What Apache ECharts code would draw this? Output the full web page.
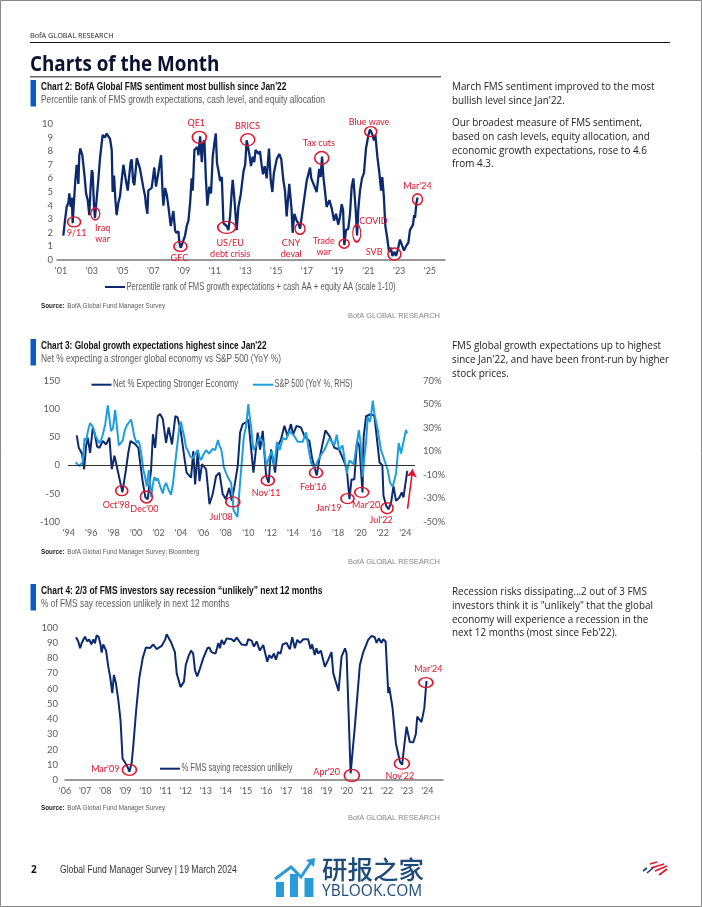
<!DOCTYPE html>
<html><head><meta charset="utf-8">
<style>html,body{margin:0;padding:0;background:#fff}#c{width:702px;height:907px}</style>
<script src="https://cdn.jsdelivr.net/npm/echarts@6/dist/echarts.min.js"></script>
</head><body><div id="c"></div>
<script>
// ---------- data ----------
const sentimentYearTicks=[2001,2003,2005,2007,2009,2011,2013,2015,2017,2019,2021,2023,2025];
const sentimentValues=[[2001.15,1.8],[2001.26,2.9],[2001.37,3.9],[2001.48,4.2],[2001.54,4.9],[2001.63,3.9],[2001.7,4.6],[2001.76,2.7],[2001.85,4.4],[2001.93,5.8],[2002.02,7],[2002.13,5.6],[2002.19,7.7],[2002.26,8.2],[2002.39,7.7],[2002.45,7.6],[2002.54,6.1],[2002.63,4.9],[2002.74,4.4],[2002.84,3.3],[2002.93,5.4],[2003,6.6],[2003.06,6.4],[2003.15,3.9],[2003.21,3.1],[2003.32,4.5],[2003.43,5.9],[2003.54,7.5],[2003.6,7.5],[2003.71,9.2],[2003.86,9],[2003.97,9.3],[2004.08,9.4],[2004.19,8.9],[2004.3,8.1],[2004.36,5],[2004.45,6.2],[2004.54,4.4],[2004.62,3.3],[2004.73,4.2],[2004.84,4.7],[2004.95,5.9],[2005.06,7],[2005.14,7.1],[2005.23,5.8],[2005.34,5.1],[2005.42,5],[2005.53,7.2],[2005.6,7.4],[2005.69,5.8],[2005.77,5.5],[2005.93,7.5],[2006.03,7.6],[2006.14,6.7],[2006.25,6.6],[2006.36,5.3],[2006.47,4.7],[2006.53,4],[2006.62,3.4],[2006.68,5.1],[2006.9,5.3],[2007.07,6.8],[2007.18,5.4],[2007.33,6.4],[2007.51,7.7],[2007.6,5.1],[2007.66,4],[2007.77,5.3],[2007.88,4.8],[2007.99,3.9],[2008.14,2.5],[2008.31,3.6],[2008.42,2.2],[2008.49,2],[2008.64,2.1],[2008.7,1.3],[2008.79,0.9],[2008.92,1.3],[2009.07,1.8],[2009.18,2.5],[2009.29,2.9],[2009.4,4.2],[2009.5,6],[2009.57,5.1],[2009.68,8.1],[2009.79,8],[2009.87,8.3],[2009.94,7.7],[2010.05,9.1],[2010.16,7.2],[2010.24,8.6],[2010.33,8.8],[2010.42,6.1],[2010.52,4],[2010.65,5.4],[2010.76,4.9],[2010.87,7.6],[2010.98,8.6],[2011.07,9.3],[2011.15,7.1],[2011.24,6.6],[2011.35,5.8],[2011.46,6.1],[2011.57,2.7],[2011.67,2.6],[2011.78,2.5],[2011.89,2.2],[2012,3.2],[2012.11,5.1],[2012.17,5.9],[2012.28,4.5],[2012.43,2.2],[2012.54,3.9],[2012.69,4.8],[2012.87,6.5],[2012.98,7],[2013.08,8.8],[2013.19,8.9],[2013.25,7.8],[2013.36,6.9],[2013.47,7.6],[2013.57,7.2],[2013.66,8.1],[2013.84,7.8],[2013.94,8],[2014.05,7],[2014.14,6.3],[2014.25,6.9],[2014.38,6],[2014.53,8.2],[2014.64,5.9],[2014.75,5],[2014.85,6.4],[2015.03,7.4],[2015.2,7.8],[2015.33,7.4],[2015.46,5.9],[2015.57,5.1],[2015.68,3.2],[2015.85,5.6],[2016,3.7],[2016.07,2],[2016.18,3.4],[2016.33,2.9],[2016.44,2.7],[2016.55,2.3],[2016.65,3.1],[2016.76,3.2],[2016.87,4.9],[2016.98,5.8],[2017.2,6.8],[2017.28,6],[2017.46,5.5],[2017.63,5],[2017.8,6.7],[2017.89,6.1],[2017.98,7.6],[2018.07,6.1],[2018.17,5.1],[2018.28,3.9],[2018.46,4.4],[2018.61,3.8],[2018.76,2.9],[2018.89,3.4],[2019.04,2.6],[2019.15,3.2],[2019.26,4.1],[2019.35,3.7],[2019.43,1.1],[2019.54,2.2],[2019.69,2.3],[2019.8,3.4],[2019.91,5.4],[2020.02,6],[2020.13,6.1],[2020.17,3.7],[2020.26,1.8],[2020.34,3.7],[2020.45,5.1],[2020.58,6],[2020.71,6.4],[2020.84,8.2],[2021,9.2],[2021.1,9.6],[2021.23,9.3],[2021.36,8.8],[2021.45,9.2],[2021.58,7.6],[2021.71,6.4],[2021.82,5.1],[2021.9,6.1],[2022,4.7],[2022.1,2.5],[2022.21,1.7],[2022.34,0.6],[2022.45,0.9],[2022.56,0.3],[2022.69,0.6],[2022.79,0.3],[2022.9,0.7],[2023.05,1.5],[2023.18,1.1],[2023.31,0.7],[2023.49,1.1],[2023.6,1.3],[2023.7,2.2],[2023.82,2.1],[2023.9,2.6],[2023.97,3.3],[2024.03,3.1],[2024.12,4.2],[2024.2,4.6]];
const growthYearTicks=[1994,1996,1998,2000,2002,2004,2006,2008,2010,2012,2014,2016,2018,2020,2022,2024];
const netStrongerValues=[[1994.71,53],[1994.89,31],[1995.04,30],[1995.19,20],[1995.37,-7],[1995.54,34],[1995.69,49],[1995.9,22],[1996.14,67],[1996.29,58],[1996.53,33],[1996.73,31],[1997.03,43],[1997.33,37],[1997.62,49],[1997.83,-7],[1998.07,17],[1998.37,-10],[1998.78,-48],[1999.1,-7],[1999.3,22],[1999.5,43],[1999.9,38],[2000.2,31],[2000.4,-1],[2000.6,-31],[2000.83,-57],[2001.04,-60],[2001.34,-7],[2001.5,55],[2001.7,31],[2001.93,87],[2002.14,91],[2002.38,82],[2002.67,40],[2002.9,67],[2003.2,37],[2003.5,87],[2003.7,85],[2004,58],[2004.3,14],[2004.5,-13],[2004.9,-22],[2005.1,25],[2005.26,-34],[2005.5,25],[2005.65,-28],[2005.88,2],[2006.24,-7],[2006.54,-69],[2006.83,-51],[2007.13,-19],[2007.43,-13],[2007.72,-51],[2008,-60],[2008.3,-40],[2008.53,-63],[2008.77,-37],[2009.06,-1],[2009.27,58],[2009.5,73],[2009.8,76],[2010,81],[2010.25,30],[2010.46,-13],[2010.84,58],[2011.05,28],[2011.29,61],[2011.59,-19],[2011.82,-31],[2012.03,28],[2012.39,-13],[2012.63,34],[2012.92,46],[2013.22,70],[2013.5,52],[2013.8,73],[2014,55],[2014.3,70],[2014.7,67],[2015,52],[2015.45,43],[2015.7,11],[2016.1,-18],[2016.34,11],[2016.87,62],[2017.23,52],[2017.68,31],[2018.1,28],[2018.57,5],[2018.78,-7],[2019.02,-60],[2019.2,-25],[2019.45,-25],[2019.7,43],[2019.9,34],[2020.18,-48],[2020.28,50],[2020.5,87],[2020.95,91],[2021.24,87],[2021.7,5],[2021.95,0],[2022.05,-54],[2022.3,-72],[2022.5,-78],[2022.73,-66],[2022.94,-37],[2023.17,-63],[2023.47,-57],[2023.68,-48],[2023.83,-57],[2024.17,-10]];
const sp500YoyValues=[[1994.6,0.5],[1994.75,-1],[1994.95,-2.6],[1995.1,-1],[1995.25,1],[1995.4,21],[1995.55,19],[1995.7,27],[1995.9,34],[1996.14,31],[1996.3,25],[1996.44,22],[1996.7,17],[1996.9,20],[1997.03,24],[1997.25,33],[1997.48,49],[1997.62,38],[1997.77,27],[1997.95,30],[1998.13,45],[1998.3,30],[1998.46,15],[1998.8,19],[1999,28],[1999.17,32],[1999.55,37],[1999.7,30],[1999.85,22],[2000.06,17],[2000.2,19],[2000.36,14],[2000.5,5],[2000.65,-6],[2000.8,-12],[2000.95,-20],[2001.13,-6],[2001.34,-29],[2001.5,-18],[2001.63,-12],[2001.8,-15],[2001.93,-13],[2002.15,-20],[2002.38,-26],[2002.52,-20],[2002.67,-17],[2002.9,-23],[2003.12,-27],[2003.28,-18],[2003.42,-6],[2003.58,8],[2003.72,19.5],[2003.85,30],[2004,35],[2004.15,28],[2004.3,22],[2004.45,13],[2004.6,11],[2004.8,6],[2005.05,4],[2005.3,8],[2005.5,11],[2005.65,5],[2005.8,2.5],[2006,7],[2006.24,11],[2006.5,8],[2006.83,12],[2007.05,11],[2007.3,19.5],[2007.45,14],[2007.58,12],[2007.7,5],[2007.8,-3],[2008,-8],[2008.17,-12],[2008.47,-17],[2008.6,-28],[2008.68,-40],[2008.85,-43],[2009.03,-46],[2009.2,-25],[2009.36,-6],[2009.5,10],[2009.6,22],[2009.8,31],[2009.92,42],[2010,50],[2010.12,40],[2010.25,31],[2010.38,18],[2010.46,11],[2010.7,15],[2011,22],[2011.3,18],[2011.45,10],[2011.6,-3],[2011.82,4],[2012.1,10],[2012.33,-3],[2012.55,18],[2012.8,11],[2013.07,21],[2013.37,20],[2013.67,27],[2014.1,23],[2014.4,18],[2014.85,18],[2015.15,26],[2015.39,11],[2015.6,0],[2015.9,-4.6],[2016.2,2],[2016.49,7],[2016.78,11],[2017.23,21],[2017.67,15],[2017.88,24],[2018.1,11],[2018.4,15],[2018.78,-9],[2019,2],[2019.15,2],[2019.4,-1],[2019.65,15],[2019.85,28],[2020,18],[2020.2,-12],[2020.35,5],[2020.5,18],[2020.65,39],[2020.85,35],[2021,45],[2021.1,53],[2021.24,42],[2021.54,28],[2021.83,11],[2022.13,2.5],[2022.43,-6],[2022.64,-17],[2022.88,-20],[2023.17,-9],[2023.41,17],[2023.62,8],[2023.9,21],[2024.06,28],[2024.15,25]];
const recessionYearTicks=[2006,2007,2008,2009,2010,2011,2012,2013,2014,2015,2016,2017,2018,2019,2020,2021,2022,2023,2024];
const unlikelyValues=[[2006.55,93.7],[2006.66,91],[2006.75,86.5],[2006.83,90],[2006.91,90],[2006.99,94],[2007.11,91],[2007.2,92.4],[2007.31,89],[2007.41,92.4],[2007.49,89.7],[2007.57,95],[2007.67,94],[2007.77,88.6],[2007.82,83.6],[2007.9,89],[2008.04,85],[2008.15,74.4],[2008.24,68],[2008.35,57],[2008.43,69],[2008.53,63.5],[2008.65,52.5],[2008.76,39],[2008.86,14],[2008.96,12],[2009.1,8.8],[2009.2,5.5],[2009.31,11],[2009.39,22],[2009.53,45],[2009.6,45.5],[2009.69,66.8],[2009.86,80],[2009.92,79],[2010.02,87],[2010.22,86.7],[2010.3,86],[2010.39,89],[2010.55,86],[2010.8,88],[2010.97,92],[2011.05,95.7],[2011.13,95.3],[2011.25,91],[2011.46,84],[2011.55,70],[2011.63,69],[2011.74,61],[2011.91,64.6],[2012,75.5],[2012.13,81],[2012.26,85],[2012.37,83],[2012.46,72],[2012.57,68],[2012.7,73],[2012.87,80],[2013.07,86.5],[2013.17,87],[2013.28,84],[2013.36,85],[2013.48,83],[2013.62,90],[2013.7,86.5],[2013.78,92],[2013.9,89],[2014.03,93],[2014.28,92.4],[2014.4,91],[2014.53,93.5],[2014.77,89],[2015.02,88.6],[2015.1,92.4],[2015.27,91.5],[2015.39,87.6],[2015.52,91],[2015.68,85],[2015.85,88.6],[2016.05,77.7],[2016.15,82],[2016.26,80],[2016.38,83],[2016.48,79],[2016.59,84],[2016.71,83],[2016.81,89],[2017.01,90],[2017.17,85.8],[2017.29,93.7],[2017.42,86.5],[2017.54,92],[2017.67,90],[2017.84,92.4],[2018.08,92.4],[2018.2,86],[2018.28,89],[2018.41,82],[2018.49,86.5],[2018.58,83],[2018.71,85],[2018.91,74.4],[2019.08,79],[2019.24,84],[2019.33,70],[2019.59,58.4],[2019.74,81],[2019.91,86.5],[2019.99,83],[2020.19,4.4],[2020.4,35],[2020.65,75.5],[2020.82,84],[2021.06,92],[2021.23,94.6],[2021.39,93.7],[2021.48,90],[2021.59,93],[2021.73,90],[2021.81,92.4],[2021.93,91],[2022.06,57],[2022.11,61],[2022.27,47.7],[2022.44,24],[2022.64,12],[2022.75,10],[2022.85,22],[2022.97,35],[2023.13,25],[2023.3,24.7],[2023.43,30],[2023.5,41.6],[2023.71,38],[2023.85,47],[2023.96,65]];
// events: [ring year, ring value, label, label year, label value]
const sentimentEvents=[[2001.85,2.8,'9/11',2002.02,1.96],[2003.23,3.4,'Iraq\nwar',2003.71,1.96],[2008.77,1,'GFC',2008.7,0.17],[2010,9.02,'QE1',2009.8,10.1],[2011.78,2.4,'US/EU\ndebt crisis',2012,0.86],[2013.15,8.85,'BRICS',2013.13,9.85],[2016.55,2.3,'CNY\ndeval',2015.97,0.86],[2017.96,7.5,'Tax cuts',2017.77,8.6],[2019.42,1.2,'Trade\nwar',2018.1,0.98],[2020.24,1.96,'COVID',2021.33,2.87],[2021.15,9.44,'Blue wave',2021.04,10.15],[2022.69,0.44,'SVB',2021.37,0.61],[2024.19,4.46,"Mar'24",2024.19,5.47]];
const growthEvents=[[1998.72,-45,"Oct'98",1998.22,-70],[2000.92,-56,"Dec'00",2000.74,-77],[2008.62,-65,"Jul'08",2007.58,-91],[2011.74,-27,"Nov'11",2011.59,-50],[2016.04,-13,"Feb'16",2015.8,-38],[2018.84,-59,"Jan'19",2017.17,-75],[2020.11,-48,"Mar'20",2020.5,-70],[2022.37,-76,"Jul'22",2021.84,-98]];
const growthArrow=[[2024.2,-77],[2024.65,-7]];
const recessionEvents=[[2009.2,6.6,"Mar'09",2008,7],[2020.25,3,"Apr'20",2019,5.5],[2022.74,10.7,"Nov'22",2022.64,2.8],[2023.93,64,"Mar'24",2024.05,72.6]];
// ---------- styling ----------
const ringSizes2=[[13,10],[9,12],[13,10],[14,12],[18,12],[14,12],[10,11],[14,13],[10,9],[8,17],[12,10],[13,12],[10,11]];
const ringSizes3=[[12,10],[12,12],[14,10],[13,10],[13,10],[13,10],[14,10],[12,11]];
const ringSizes4=[[14,11],[15,12],[15,11],[14,10]];
const NAVY='#0b2a6f',SKY='#1e9ede',RED='#e2132c',GREY='#5a5a5a';
const SANS='"Liberation Sans",sans-serif';
const LATO='Lato,sans-serif';
const BODY='"Open Sans",sans-serif';
function marks(ev,sizes,pxX,pxY){
  return {silent:true,animation:false,data:ev.map((e,i)=>({
    coord:[e[0],e[1]],symbol:'circle',symbolSize:sizes[i],
    itemStyle:{color:'rgba(0,0,0,0)',borderColor:RED,borderWidth:1.5},
    label:{show:true,position:'inside',offset:[(e[3]-e[0])*pxX,-(e[4]-e[1])*pxY],formatter:()=>e[2],color:RED,fontFamily:LATO,fontSize:9,lineHeight:11}
  }))};
}
function xAxis(i,min,max,ticks,showLine,margin){
  return {type:'value',gridIndex:i,min,max,splitLine:{show:false},axisTick:{show:false},
    axisLine:{show:showLine,onZero:false,lineStyle:{color:'#777',width:1.5}},
    axisLabel:{customValues:ticks,margin,color:GREY,fontFamily:LATO,fontSize:9,formatter:v=>"'"+String(v).slice(2)}};
}
function yAxis(i,min,max,interval,margin,extra){
  return Object.assign({type:'value',gridIndex:i,min,max,interval,splitLine:{show:false},axisTick:{show:false},axisLine:{show:false},
    axisLabel:{margin,color:GREY,fontFamily:LATO,fontSize:9.5}},extra||{});
}
function txt(x,y,t,font,fill,sx,align){return {type:'text',silent:true,x,y,scaleX:sx||1,style:{x:0,y:0,text:t,font,fill,textAlign:align||'left',textVerticalAlign:'middle'}};}
function rect(x,y,w,h,fill){return {type:'rect',silent:true,shape:{x,y,width:w,height:h},style:{fill}};}
function poly(pts,stroke,w){return {type:'polyline',silent:true,shape:{points:pts},style:{stroke,lineWidth:w,fill:'none'}};}
function legendItem(x1,y,text,color,sx){return [poly([[x1,y],[x1+20,y]],color,2),txt(x1+21.5,y,text,'10px '+SANS,GREY,sx)];}
function head(barY,title,sub,src,srcY,brandY,s1,s2){
  return [rect(30.5,barY,5.5,26.5,'#0b5cc7'),
    txt(41,barY+7.5,title,'bold 10.5px '+SANS,'#111',s1),
    txt(41,barY+20,sub,'10.5px '+SANS,GREY,s2),
    {type:'text',silent:true,x:41,y:srcY,scaleX:0.79,style:{x:0,y:0,rich:{a:{font:'bold 8px '+SANS,fill:'#222'},b:{font:'8px '+SANS,fill:GREY}},text:'{a|Source:} {b|'+src+'}',textVerticalAlign:'middle'}},
    txt(440,brandY,'BofA GLOBAL RESEARCH','7.5px '+SANS,'#888',1,'right')];
}
function para(lines,ys){return lines.map((l,i)=>txt(452,ys[i],l,'10.4px '+BODY,'#222',0.95));}
const graphics=[].concat(
  [{type:'rect',silent:true,shape:{x:0.5,y:0.5,width:701,height:906},style:{fill:'none',stroke:'#888',lineWidth:1}},
   txt(30,35.5,'BofA GLOBAL RESEARCH','7.3px '+BODY,'#222'),
   rect(30,42,640,1,'#111'),
   txt(30,65,'Charts of the Month','bold 22px '+BODY,'#0a1030',0.855),
   rect(30,76,411,1.5,'#666')],
  head(80,"Chart 2: BofA Global FMS sentiment most bullish since Jan'22",'Percentile rank of FMS growth expectations, cash level, and equity allocation','BofA Global Fund Manager Survey',306,316,0.79,0.795),
  head(339,"Chart 3: Global growth expectations highest since Jan'22",'Net % expecting a stronger global economy vs S&P 500 (YoY %)','BofA Global Fund Manager Survey; Bloomberg',552,562,0.79,0.795),
  head(584,'Chart 4: 2/3 of FMS investors say recession “unlikely” next 12 months','% of FMS say recession unlikely in next 12 months','BofA Global Fund Manager Survey',808,818,0.805,0.795),
  legendItem(105,287,'Percentile rank of FMS growth expectations + cash AA + equity AA (scale 1-10)',NAVY,0.765),
  legendItem(91.5,384.7,'Net % Expecting Stronger Economy',NAVY,0.785),
  legendItem(253,384.7,'S&P 500 (YoY %, RHS)',SKY,0.74),
  legendItem(160,768.7,'% FMS saying recession unlikely',NAVY,0.76),
  para(['March FMS sentiment improved to the most',"bullish level since Jan'22.",'Our broadest measure of FMS sentiment,','based on cash levels, equity allocation, and','economic growth expectations, rose to 4.6','from 4.3.'],[87,101.5,123.5,137,151,164.5]),
  para(['FMS global growth expectations up to highest',"since Jan'22, and have been front-run by higher",'stock prices.'],[346,360,374]),
  para(['Recession risks dissipating…2 out of 3 FMS','investors think it is "unlikely" that the global','economy will experience a recession in the',"next 12 months (most since Feb'22)."],[592,606,620,633.5]),
  [txt(31,870,'2','bold 10px '+BODY,'#111'),
   txt(60,870,'Global Fund Manager Survey | 19 March 2024','10px '+SANS,'#333',0.86),
   rect(276,882,8,15,'#2a9bd6'),rect(290,874,8,23,'#2a9bd6'),rect(304.5,878,9,19,'#2a9bd6'),
   poly([[275,879],[291,867],[301,877],[311,862]],'#2a9bd6',3),
   {type:'polygon',silent:true,shape:{points:[[306,860],[315,858],[314,867]]},style:{fill:'#2a9bd6'}},
   txt(322,869.5,'研报之家','500 25.5px "Noto Sans CJK SC"','#1d4b7a'),
   txt(322,892,'YBLOOK.COM','15.5px '+BODY,'#1d4b7a'),
   poly([[643,871],[647,868]],'#1d3a78',1.6),poly([[647,873],[654,867]],'#1d3a78',1.6),
   poly([[650,864],[657,862]],'#e2132c',1.6),poly([[651,868],[664,864]],'#e2132c',1.6),
   poly([[655,871],[667,866]],'#e2132c',1.6),poly([[659,875],[667,869]],'#e2132c',1.6)]
);
const option={
  animation:false,
  grid:[
    {left:57,top:124,width:388,height:136},
    {left:68,top:380.7,width:347,height:141},
    {left:65,top:627.7,width:378,height:152.3}
  ],
  xAxis:[
    xAxis(0,2000.74,2025.98,sentimentYearTicks,true,7),
    xAxis(1,1993.93,2024.86,growthYearTicks,false,7),
    xAxis(2,2006,2024.78,recessionYearTicks,true,7)
  ],
  yAxis:[
    yAxis(0,0,10,1,4),
    yAxis(1,-100,150,50,8),
    yAxis(1,-50,70,20,8,{position:'right',axisLabel:{margin:8,color:GREY,fontFamily:LATO,fontSize:9.5,formatter:v=>v+'%'}}),
    yAxis(2,0,100,10,7)
  ],
  series:[
    {type:'line',name:'Percentile rank of FMS growth expectations + cash AA + equity AA (scale 1-10)',xAxisIndex:0,yAxisIndex:0,data:sentimentValues,showSymbol:false,symbol:'none',z:3,lineStyle:{color:NAVY,width:2.3},markPoint:marks(sentimentEvents,ringSizes2,15.375,13.6)},
    {type:'line',name:'Net % Expecting Stronger Economy',xAxisIndex:1,yAxisIndex:1,data:netStrongerValues,showSymbol:false,symbol:'none',z:2,lineStyle:{color:NAVY,width:2},
      markPoint:marks(growthEvents,ringSizes3,11.22,0.564),
      markLine:{silent:true,animation:false,symbol:'none',label:{show:false},data:[
        {yAxis:0,lineStyle:{color:'#333',width:1.2,type:'solid'}},
        [{coord:growthArrow[0],symbol:'none',lineStyle:{color:RED,width:1.6,type:'solid'}},{coord:growthArrow[1],symbol:'arrow',symbolSize:8}]
      ]}},
    {type:'line',name:'S&P 500 (YoY %, RHS)',xAxisIndex:1,yAxisIndex:2,data:sp500YoyValues,showSymbol:false,symbol:'none',z:3,lineStyle:{color:SKY,width:2}},
    {type:'line',name:'% FMS saying recession unlikely',xAxisIndex:2,yAxisIndex:3,data:unlikelyValues,showSymbol:false,symbol:'none',z:3,lineStyle:{color:NAVY,width:2},markPoint:marks(recessionEvents,ringSizes4,20.13,1.523)}
  ],
  graphic:{elements:graphics}
};
const chart=echarts.init(document.getElementById('c'),null,{renderer:'canvas',width:702,height:907});
chart.setOption(option);
</script></body></html>
